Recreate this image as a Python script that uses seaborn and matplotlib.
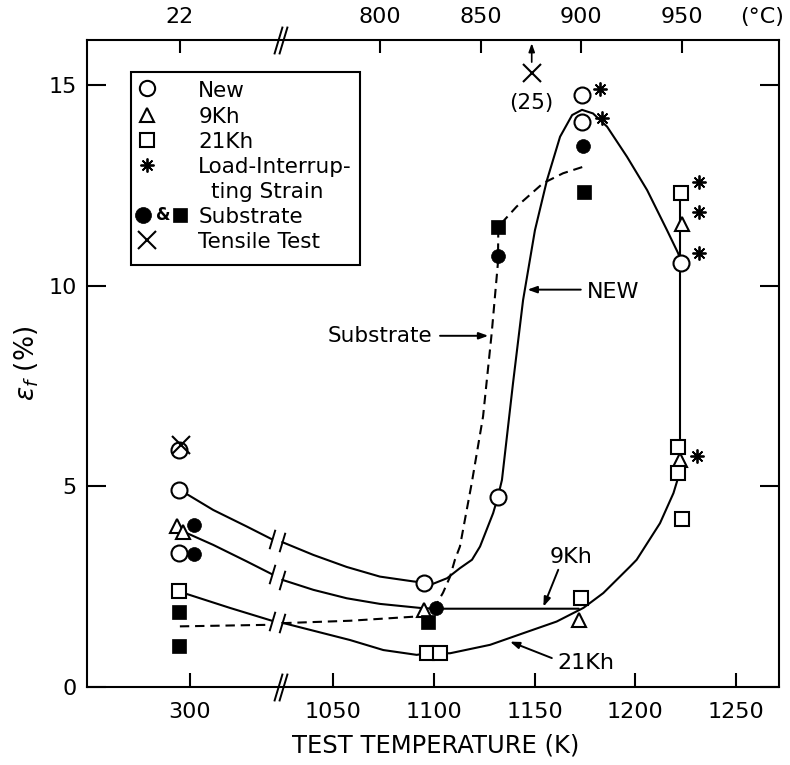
import numpy as np
import matplotlib
matplotlib.use('Agg')
import matplotlib.pyplot as plt
import matplotlib.transforms as mtransforms
import seaborn as sns

# test temperature in K, strain to failure in %
# (x axis is broken between ~340 K and ~1020 K)
new_k = [295, 295, 295, 1095, 1132, 1173.5, 1173.5, 1223]
new_y = [5.91, 4.91, 3.34, 2.60, 4.74, 14.75, 14.08, 10.56]
kh9_k = [294, 297, 1095, 1172, 1222.5, 1223.5]
kh9_y = [4.01, 3.85, 1.92, 1.66, 5.66, 11.54]
kh21_k = [295, 1096.5, 1103, 1173, 1221.5, 1221.5, 1223.5, 1223]
kh21_y = [2.38, 0.84, 0.84, 2.21, 5.99, 5.33, 4.19, 12.30]
subc_k = [302, 302, 1101, 1132, 1174]
subc_y = [4.04, 3.32, 1.97, 10.74, 13.49]
subs_k = [295, 295, 1097, 1132, 1174.5]
subs_y = [1.88, 1.01, 1.63, 11.47, 12.34]
load_k = [1182.5, 1183.5, 1232, 1232, 1232, 1231]
load_y = [14.89, 14.17, 12.59, 11.84, 10.81, 5.76]
tens_k = [296, 1148.6]
tens_y = [6.03, 15.29]

# fitted curves
new_left_k = [295.2, 311.8, 328.4, 341]
new_left_y = [4.91, 4.41, 4.00, 3.68]
new_right_k = [1024.5, 1040.0, 1056.6, 1073.1, 1089.7, 1095.0, 1099.5, 1106.5, 1112.9,
               1118.9, 1122.9, 1129.4, 1131.8, 1133.8, 1139.3, 1144.3, 1150.2, 1156.2,
               1162.7, 1168.7, 1173.6, 1179.1, 1186.1, 1196.0, 1206.0, 1215.9, 1221.4, 1222.9]
new_right_y = [3.61, 3.29, 2.99, 2.75, 2.63, 2.60, 2.57, 2.71, 2.96,
               3.17, 3.50, 4.33, 4.74, 5.16, 7.57, 9.64, 11.38, 12.63,
               13.71, 14.25, 14.38, 14.29, 13.96, 13.21, 12.38, 11.38, 10.81, 10.57]
kh9_left_k = [297, 311.8, 328.4, 341]
kh9_left_y = [3.87, 3.54, 3.13, 2.81]
kh9_right_k = [1024.5, 1040.0, 1056.6, 1073.1, 1093.0, 1100, 1172]
kh9_right_y = [2.67, 2.42, 2.21, 2.07, 1.97, 1.95, 1.95]
kh21_left_k = [294.7, 320.1, 341]
kh21_left_y = [2.38, 1.97, 1.65]
kh21_right_k = [1024.5, 1058.2, 1074.8, 1091.4, 1096.5, 1103, 1108.0, 1127.9, 1144.4,
                1161.0, 1174.3, 1184.2, 1197.5, 1200.8, 1212.4, 1219.1, 1221.4]
kh21_right_y = [1.60, 1.17, 0.92, 0.80, 0.84, 0.84, 0.84, 1.05, 1.34,
                1.63, 1.97, 2.34, 3.00, 3.17, 4.08, 4.83, 5.21]
link_k = [1222.5, 1222.5]
link_y = [5.21, 12.30]
subl_left_k = [295.2, 341]
subl_left_y = [1.51, 1.55]
subl_right_k = [1024.5, 1058.2, 1089.6, 1100.5, 1104.5, 1108.0, 1110.4, 1112.9, 1118.8,
                1124.4, 1128.7, 1131.8, 1132.0, 1141.1, 1154.2, 1164.2, 1174.1]
subl_right_y = [1.59, 1.65, 1.75, 2.00, 2.35, 2.75, 3.17, 3.50, 5.09,
                6.74, 8.82, 10.57, 11.47, 11.97, 12.55, 12.80, 12.96]

k_ticks = [300, 1050, 1100, 1150, 1200, 1250]
c_ticks = [22, 800, 850, 900, 950]
legend_labels = ['New', '9Kh', '21Kh', 'Load-Interrup-', 'ting Strain', 'Substrate', 'Tensile Test']


def fwd(k):
    k = np.asarray(k, dtype=float)
    return np.where(k < 680, k + 678.4, k)


def inv(u):
    u = np.asarray(u, dtype=float)
    return np.where(u < 1021, u - 678.4, u)


sns.set_style('ticks')
plt.rcParams['font.family'] = 'DejaVu Sans'
plt.rcParams['mathtext.fontset'] = 'dejavusans'
for key in ['text.color', 'axes.labelcolor', 'xtick.color', 'ytick.color', 'axes.edgecolor']:
    plt.rcParams[key] = 'black'

fig = plt.figure(figsize=(7.9, 7.65), dpi=100)
ax = fig.add_axes([0.1101, 0.1020, 0.8760, 0.8457])

lw = 1.5
curves = [(new_left_k, new_left_y), (new_right_k, new_right_y),
          (kh9_left_k, kh9_left_y), (kh9_right_k, kh9_right_y),
          (kh21_left_k, kh21_left_y), (kh21_right_k, kh21_right_y),
          (link_k, link_y)]
for cx, cy in curves:
    sns.lineplot(x=cx, y=cy, ax=ax, color='black', lw=lw, sort=False, estimator=None, zorder=2)
for cx, cy in [(subl_left_k, subl_left_y), (subl_right_k, subl_right_y)]:
    sns.lineplot(x=cx, y=cy, ax=ax, color='black', lw=lw, sort=False, estimator=None,
                 linestyle=(0, (4.5, 2.8)), zorder=2)

# markers
ax.plot(new_k, new_y, ls='none', marker='o', ms=11.5, mfc='white', mec='black', mew=1.5, zorder=3)
ax.plot(kh9_k, kh9_y, ls='none', marker='^', ms=10, mfc='white', mec='black', mew=1.5, zorder=3)
ax.plot(kh21_k, kh21_y, ls='none', marker='s', ms=10, mfc='white', mec='black', mew=1.5, zorder=3)
ax.plot(subc_k, subc_y, ls='none', marker='o', ms=10, mfc='black', mec='black', mew=0.5, zorder=4)
ax.plot(subs_k, subs_y, ls='none', marker='s', ms=9.5, mfc='black', mec='black', mew=0.5, zorder=4)
ax.plot(load_k, load_y, ls='none', marker=(8, 2, 0), ms=10, color='black', mew=1.3, zorder=4)
ax.plot(tens_k, tens_y, ls='none', marker='x', ms=13, color='black', mew=1.5, zorder=5)

# break marks on the curves
slash = [(-0.3, -1.0), (0.3, 1.0)]
for seg_k, seg_y, at_end in [(new_left_k, new_left_y, True), (new_right_k, new_right_y, False),
                             (kh9_left_k, kh9_left_y, True), (kh9_right_k, kh9_right_y, False),
                             (kh21_left_k, kh21_left_y, True), (kh21_right_k, kh21_right_y, False)]:
    i = -1 if at_end else 0
    ax.plot([seg_k[i]], [seg_y[i]], ls='none', marker=slash, ms=14, mfc='none',
            mec='black', mew=1.4, zorder=4)

ax.set_xscale('function', functions=(fwd, inv))
ax.set_xlim(249, 1271.6)
ax.set_ylim(0, 16.12)
ax.set_xticks(k_ticks)
ax.set_xticklabels([str(t) for t in k_ticks])
ax.set_yticks([0, 5, 10, 15])
ax.set_yticklabels(['0', '5', '10', '15'])
ax.tick_params(axis='x', direction='in', length=10, width=1.5, pad=11, labelsize=16, top=False)
ax.tick_params(axis='y', direction='in', length=14, width=1.5, pad=7.5, labelsize=16,
               left=True, right=True)
for s in ax.spines.values():
    s.set_linewidth(1.5)
    s.set_color('black')

ax_top = ax.twiny()
ax_top.set_xscale('function', functions=(fwd, inv))
ax_top.set_xlim(249, 1271.6)
ax_top.set_xticks([c + 273.15 for c in c_ticks])
ax_top.set_xticklabels([str(c) for c in c_ticks])
ax_top.tick_params(axis='x', direction='in', length=9, width=1.5, pad=9.5, labelsize=16)
for s in ax_top.spines.values():
    s.set_visible(False)

# axis break marks
bl = mtransforms.blended_transform_factory(ax.transData, ax.transAxes)
for yy in (0, 1):
    ax.plot([1022.4, 1025.1], [yy, yy], ls='none', marker=slash, ms=20, mfc='none',
            mec='black', mew=1.4, transform=bl, clip_on=False, zorder=6)
ax.text(1263, 1.02, '(°C)', transform=bl, ha='center', va='bottom', fontsize=16)

# labels inside the plot
arrow = dict(arrowstyle='-|>,head_length=0.55,head_width=0.2', color='black', lw=1.4,
             shrinkA=0, shrinkB=0)
ax.annotate('', xy=(1146.5, 9.9), xytext=(1173, 9.9), arrowprops=arrow)
ax.text(1176, 9.85, 'NEW', ha='left', va='center', fontsize=16)
ax.annotate('', xy=(1127, 8.75), xytext=(1103, 8.75), arrowprops=arrow)
ax.text(1099, 8.75, 'Substrate', ha='right', va='center', fontsize=15.5)
ax.annotate('', xy=(1154.4, 2.0), xytext=(1161.8, 2.92), arrowprops=arrow)
ax.text(1168.2, 3.25, '9Kh', ha='center', va='center', fontsize=16)
ax.annotate('', xy=(1137.8, 1.13), xytext=(1158.6, 0.72), arrowprops=arrow)
ax.text(1175.6, 0.6, '21Kh', ha='center', va='center', fontsize=16)
ax.annotate('', xy=(tens_k[1], 16.04), xytext=(tens_k[1], 15.57),
            arrowprops=dict(arrowstyle='-|>,head_length=0.5,head_width=0.18', color='black',
                            lw=1.2, shrinkA=0, shrinkB=0), annotation_clip=False)
ax.text(tens_k[1], 14.55, '(25)', ha='center', va='center', fontsize=15.5)

# legend box drawn by hand
ta = ax.transAxes
ax.add_patch(plt.Rectangle((0.0632, 0.6515), 0.3313, 0.2995, transform=ta, fill=False,
                           lw=1.5, ec='black', zorder=5))
mk = dict(ls='none', transform=ta, clip_on=False, zorder=6)
ax.plot([0.0863], [0.9253], marker='o', ms=11, mfc='white', mec='black', mew=1.5, **mk)
ax.plot([0.0863], [0.8841], marker='^', ms=9.5, mfc='white', mec='black', mew=1.5, **mk)
ax.plot([0.0863], [0.8454], marker='s', ms=9.5, mfc='white', mec='black', mew=1.5, **mk)
ax.plot([0.0863], [0.8068], marker=(8, 2, 0), ms=10, color='black', mew=1.3, **mk)
ax.plot([0.0814], [0.7295], marker='o', ms=11.5, mfc='black', mec='black', mew=0.5, **mk)
ax.plot([0.1344], [0.7295], marker='s', ms=10, mfc='black', mec='black', mew=0.5, **mk)
ax.text(0.1103, 0.7295, '&', transform=ta, ha='center', va='center', fontsize=12,
        fontweight='bold', zorder=6)
ax.plot([0.0863], [0.6909], marker='x', ms=13, color='black', mew=1.5, **mk)
text_x = [0.1608, 0.1608, 0.1608, 0.1608, 0.1788, 0.1608, 0.1608]
text_y = [0.9124, 0.8713, 0.8326, 0.7940, 0.7553, 0.7167, 0.6780]
for lx, ly, lab in zip(text_x, text_y, legend_labels):
    ax.text(lx, ly, lab, transform=ta, ha='left', va='baseline', fontsize=15.5, zorder=6)

ax.set_xlabel('TEST TEMPERATURE (K)', fontsize=17.5)
ax.set_ylabel(r'$\varepsilon_f$ (%)', fontsize=19)
ax.xaxis.set_label_coords(0.504, -0.072)
ax.yaxis.set_label_coords(-0.066, 0.5)

fig.savefig('out.png', dpi=100)
